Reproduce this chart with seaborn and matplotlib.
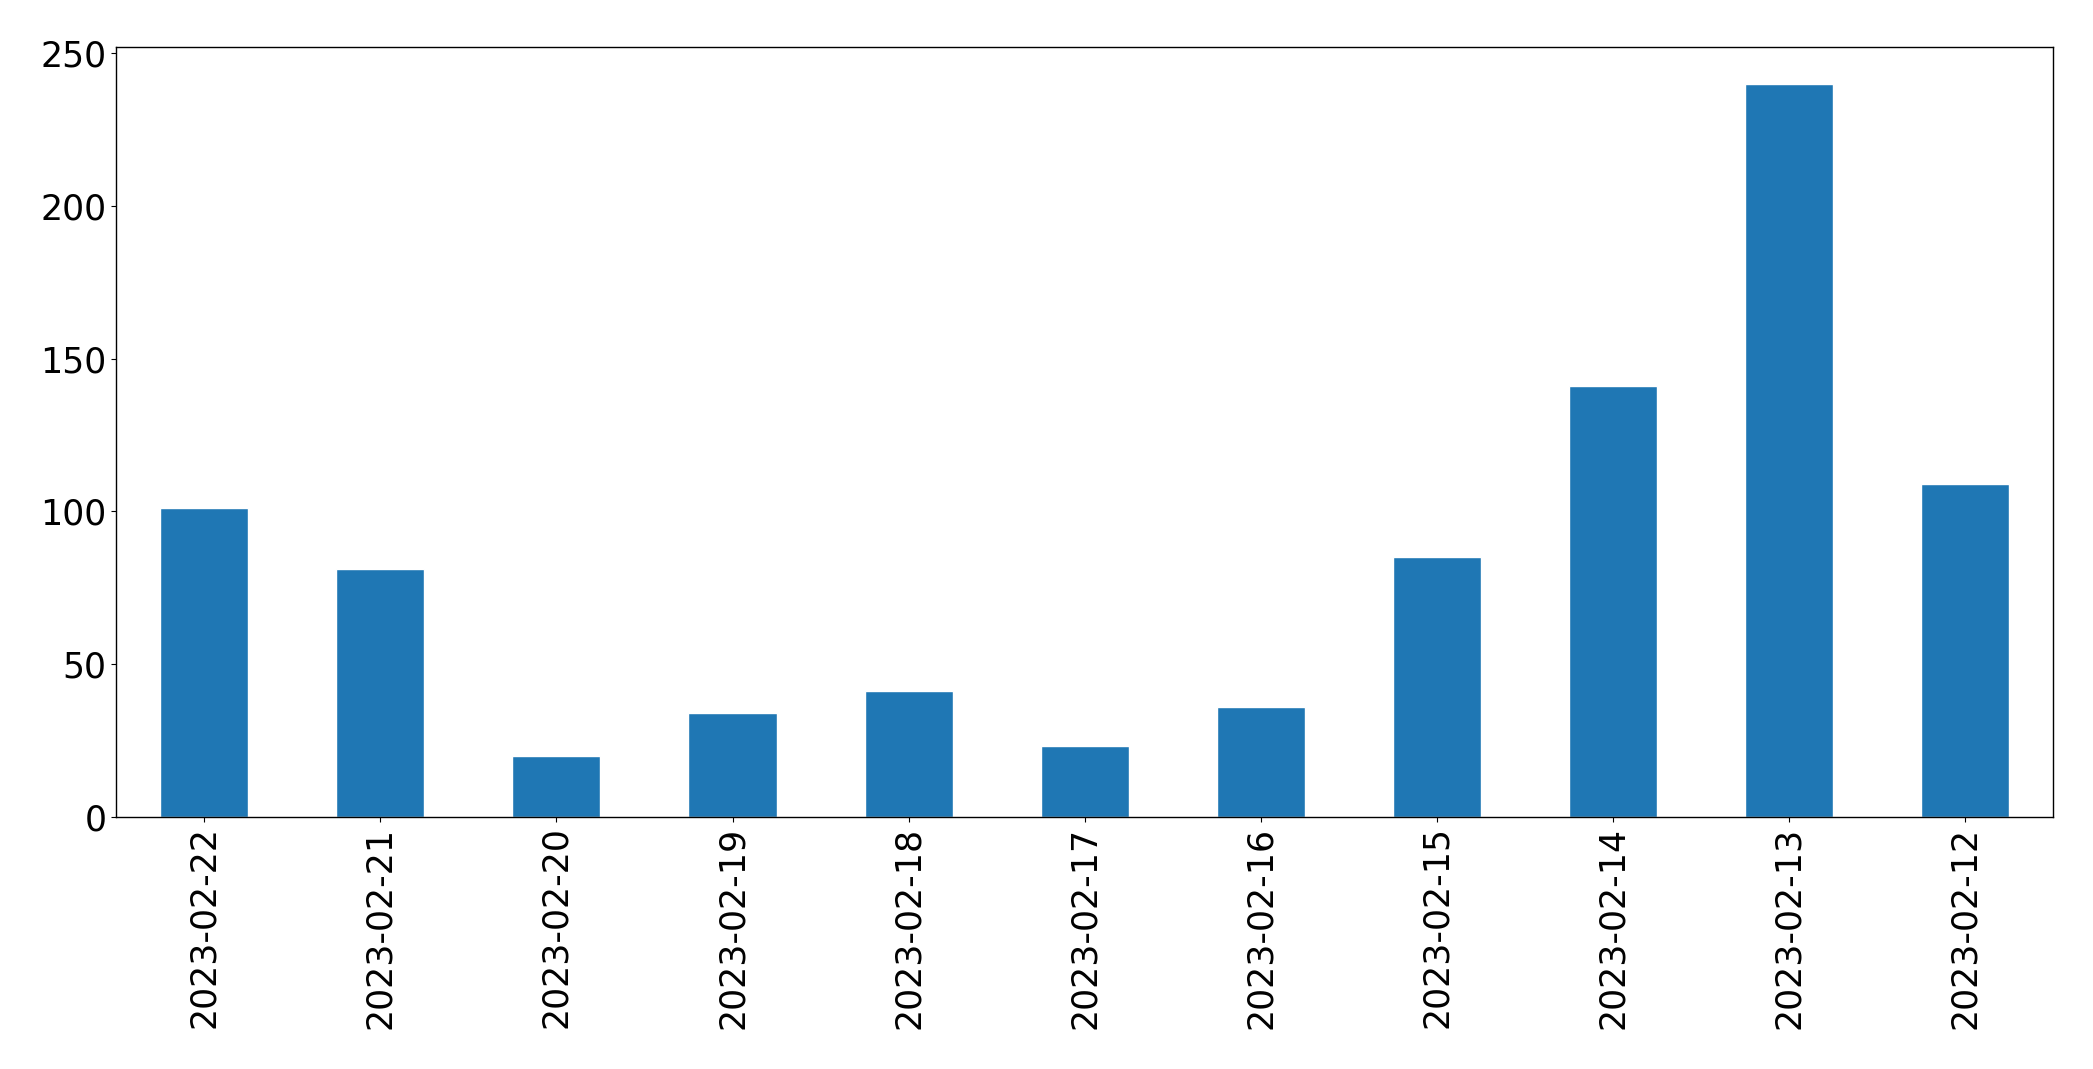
import matplotlib
matplotlib.use("Agg")
import numpy as np
import pandas as pd
import seaborn as sns
import matplotlib.pyplot as plt

dates = ["2023-02-22", "2023-02-21", "2023-02-20", "2023-02-19", "2023-02-18",
         "2023-02-17", "2023-02-16", "2023-02-15", "2023-02-14", "2023-02-13",
         "2023-02-12"]
counts = [101, 81, 20, 34, 41, 23, 36, 85, 141, 240, 109]

df = pd.DataFrame({"date": dates, "count": counts})

sns.set_style("ticks", {"axes.edgecolor": "black", "xtick.color": "black",
                        "ytick.color": "black", "text.color": "black",
                        "axes.labelcolor": "black"})
plt.rcParams["font.family"] = ["DejaVu Sans"]

fig, ax = plt.subplots(figsize=(20.93, 10.69), dpi=100)
sns.barplot(data=df, x="date", y="count", order=dates, color="#1f77b4",
            saturation=1, width=0.5, ax=ax)

ax.set_xlim(-0.5, len(dates) - 0.5)
ax.set_ylim(0, max(counts) * 1.05)
ax.set_xlabel("")
ax.set_ylabel("")
ax.tick_params(axis="x", labelrotation=90, labelsize=25, colors="black")
ax.tick_params(axis="y", labelsize=25, colors="black")
for s in ax.spines.values():
    s.set_visible(True)
    s.set_color("black")
    s.set_linewidth(1)

fig.subplots_adjust(left=0.0555, right=0.981, top=0.956, bottom=0.236)
fig.savefig("out.png", dpi=100)
